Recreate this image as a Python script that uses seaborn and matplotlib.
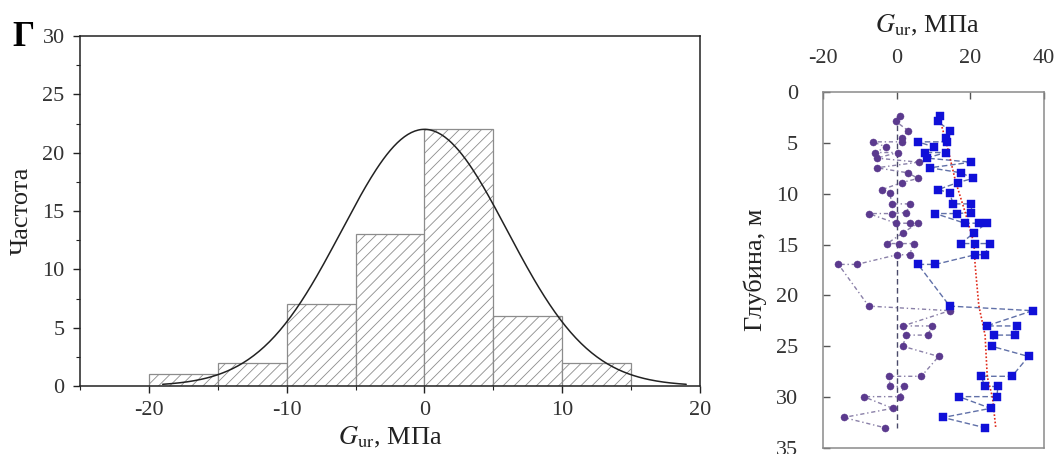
import numpy as np
import matplotlib
matplotlib.use("Agg")
import matplotlib.pyplot as plt
import seaborn as sns
from matplotlib.ticker import MultipleLocator

# ---------------- data: histogram (left) ----------------
bin_edges = [-20, -15, -10, -5, 0, 5, 10, 15]
bin_counts = [1, 2, 7, 13, 22, 6, 2]
# fitted normal curve parameters
fit_mean = 0.0
fit_sd = 6.0
fit_peak = 22.0
fit_from, fit_to = -19.0, 19.0

# ---------------- data: depth profile (right) ----------------
depth = [2.4, 2.9, 3.8, 4.5, 4.9, 4.9, 5.4, 5.95, 5.95, 6.5, 6.9, 7.45, 7.95, 8.5, 8.9,
         9.6, 9.9, 11.0, 11.0, 11.85, 11.95, 11.95, 12.9, 12.9, 12.9, 13.85, 14.9, 14.9,
         14.9, 16.0, 16.0, 16.95, 16.95, 21.05, 21.5, 23.0, 23.0, 23.9, 23.9, 25.0, 26.0,
         27.95, 27.95, 28.95, 28.95, 29.95, 29.95, 31.1, 32.0, 33.0]
g_resid = [1.0, -0.2, 3.1, 1.5, 1.5, -6.5, -2.9, -5.8, 0.3, -5.4, 6.0, -5.4, 3.1, 5.8, 1.4,
           -4.0, -1.9, -1.3, 3.7, 2.6, -1.4, -7.6, -0.2, 3.7, 5.7, 1.7, -2.6, 0.7,
           4.6, 3.5, 0.1, -10.8, -15.8, -7.6, 14.4, 1.7, 9.6, 8.5, 2.5, 1.7, 11.4,
           6.7, -2.2, -1.7, 2.1, 0.8, -9.0, -1.1, -14.4, -3.3]
g_raw = [11.9, 11.2, 14.4, 13.3, 13.7, 5.8, 10.1, 7.6, 13.3, 8.1, 20.3, 9.0, 17.6, 20.7, 16.6,
         11.2, 14.4, 15.3, 20.3, 20.3, 16.3, 10.5, 18.5, 22.3, 24.4, 21.0, 17.4, 21.3,
         25.3, 23.9, 21.3, 10.5, 5.8, 14.4, 36.9, 24.4, 32.6, 32.2, 26.4, 25.8, 35.8,
         31.3, 23.0, 23.9, 27.5, 27.2, 16.9, 25.5, 12.6, 23.9]
trend_depth = [2.4, 5.0, 8.8, 11.95, 14.9, 17.0, 21.0, 23.9, 28.0, 30.0, 33.0]
trend_val = [11.5, 13.5, 16.0, 18.7, 21.0, 21.3, 22.3, 24.0, 24.6, 26.0, 26.9]
zero_depth = [2.4, 33.0]
zero_val = [0.0, 0.0]

# ---------------- style ----------------
sns.set_theme(style="white")
plt.rcParams["font.family"] = ["Liberation Serif", "DejaVu Serif"]
plt.rcParams["mathtext.fontset"] = "stix"
plt.rcParams["axes.unicode_minus"] = False
plt.rcParams["hatch.linewidth"] = 0.6

W, H = 1060, 454
fig = plt.figure(figsize=(W / 100, H / 100), dpi=100)
fig.patch.set_facecolor("white")

# ---------------- left: histogram ----------------
ax1 = fig.add_axes([80 / W, 68 / H, 620 / W, 350 / H])
centers = [(bin_edges[i] + bin_edges[i + 1]) / 2 for i in range(len(bin_counts))]
sns.histplot(x=centers, weights=bin_counts, bins=bin_edges, ax=ax1,
             color="white", edgecolor="#8c8c8c", linewidth=0.9, hatch="///", alpha=1)
xs = np.linspace(fit_from, fit_to, 300)
ys = fit_peak * np.exp(-0.5 * ((xs - fit_mean) / fit_sd) ** 2)
sns.lineplot(x=xs, y=ys, ax=ax1, color="#222222", linewidth=1.1)

ax1.set_xlim(-25, 20)
ax1.set_ylim(0, 30)
ax1.xaxis.set_major_locator(MultipleLocator(10))
ax1.xaxis.set_minor_locator(MultipleLocator(5))
ax1.yaxis.set_major_locator(MultipleLocator(5))
ax1.yaxis.set_minor_locator(MultipleLocator(2.5))
ax1.tick_params(axis="both", which="major", direction="out", length=5, width=1,
                color="#222222", labelsize=16, labelcolor="#333333", pad=6,
                bottom=True, left=True)
ax1.tick_params(axis="both", which="minor", direction="out", length=3, width=0.8,
                color="#222222", bottom=True, left=True)
for sp in ax1.spines.values():
    sp.set_color("#222222")
    sp.set_linewidth(1.1)
ax1.set_ylabel("Частота", fontsize=19, color="#222222")
ax1.yaxis.set_label_coords((22 - 80) / 620, 0.5)
ax1.yaxis.label.set_verticalalignment("center")
ax1.set_xlabel(r"$G_{\mathrm{ur}}$, МПа", fontsize=19, color="#222222")
ax1.xaxis.set_label_coords(0.5, (17 - 68) / 350)
ax1.xaxis.label.set_verticalalignment("center")

fig.text(23 / W, 1 - 37 / H, "Г", fontsize=25, fontweight="bold",
         ha="center", va="center", color="black")

# ---------------- right: depth profile ----------------
ax2 = fig.add_axes([823 / W, 6 / H, 221 / W, 356 / H])
sns.lineplot(x=zero_val, y=zero_depth, sort=False, estimator=None, ax=ax2,
             color="#4a4a6a", linewidth=1.0, linestyle=(0, (4, 2.5)))
sns.lineplot(x=g_resid, y=depth, sort=False, estimator=None, ax=ax2,
             color="#8a80a8", linewidth=1.0, linestyle=(0, (3, 2, 1, 2)))
sns.lineplot(x=g_raw, y=depth, sort=False, estimator=None, ax=ax2,
             color="#6070a8", linewidth=1.0, linestyle=(0, (4, 2)))
sns.lineplot(x=trend_val, y=trend_depth, sort=False, estimator=None, ax=ax2,
             color="#e02a1a", linewidth=1.2, linestyle=(0, (1, 1.2)))
sns.scatterplot(x=g_resid, y=depth, ax=ax2, marker="o", s=26,
                color="#5b3a8e", edgecolor="#5b3a8e", linewidth=0.3, zorder=5)
sns.scatterplot(x=g_raw, y=depth, ax=ax2, marker="s", s=26,
                color="#1010d8", edgecolor="#1010d8", linewidth=0.3, zorder=5)

ax2.set_xlim(-20, 40)
ax2.set_ylim(35, 0)
ax2.xaxis.set_major_locator(MultipleLocator(20))
ax2.yaxis.set_major_locator(MultipleLocator(5))
ax2.xaxis.tick_top()
ax2.xaxis.set_label_position("top")
ax2.tick_params(axis="x", which="major", direction="in", length=5, width=1,
                color="#555555", labelsize=16, labelcolor="#333333", pad=17,
                top=True, bottom=False)
ax2.tick_params(axis="y", which="major", direction="in", length=5, width=1,
                color="#555555", labelsize=16, labelcolor="#333333", pad=18,
                left=True, right=False)
for sp in ax2.spines.values():
    sp.set_color("#8a8a8a")
    sp.set_linewidth(1.1)
ax2.set_xlabel(r"$G_{\mathrm{ur}}$, МПа", fontsize=19, color="#222222")
ax2.xaxis.set_label_coords((927 - 823) / 221, (429 - 6) / 356)
ax2.xaxis.label.set_verticalalignment("center")
ax2.set_ylabel("Глубина, м", fontsize=19, color="#222222")
ax2.yaxis.set_label_coords((755 - 823) / 221, 0.5)
ax2.yaxis.label.set_verticalalignment("center")

fig.savefig("out.png", dpi=100, facecolor="white")
